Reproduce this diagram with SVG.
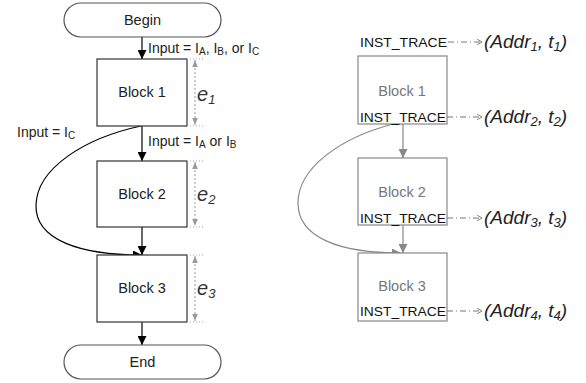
<svg xmlns="http://www.w3.org/2000/svg" width="586" height="383" viewBox="0 0 586 383">
<defs>
<marker id="ab" viewBox="0 0 10 10" refX="10" refY="5" markerWidth="9" markerHeight="9" markerUnits="userSpaceOnUse" orient="auto"><path d="M0,0 L10,5 L0,10 Z" fill="#000"/></marker>
<marker id="ag" viewBox="0 0 10 10" refX="10" refY="5" markerWidth="9" markerHeight="9" markerUnits="userSpaceOnUse" orient="auto"><path d="M0,0 L10,5 L0,10 Z" fill="#888"/></marker>
<marker id="ad" viewBox="0 0 10 10" refX="10" refY="5" markerWidth="7" markerHeight="7" markerUnits="userSpaceOnUse" orient="auto-start-reverse"><path d="M0,1 L10,5 L0,9 Z" fill="#999"/></marker>
<marker id="ao" viewBox="0 0 10 10" refX="9" refY="5" markerWidth="7" markerHeight="7" markerUnits="userSpaceOnUse" orient="auto"><path d="M2,1 L9,5 L2,9" fill="none" stroke="#777" stroke-width="1.3"/></marker>
</defs>
<style>
text{font-family:"Liberation Sans",Arial,sans-serif;}
.lbl{font-size:14px;fill:#222;}
.blk{font-size:14.5px;fill:#222;text-anchor:middle;}
.gblk{font-size:14.5px;fill:#777;text-anchor:middle;}
.box{fill:#fff;stroke:#333;stroke-width:1.2;}
.gbox{fill:#fff;stroke:#888;stroke-width:1.2;}
.pill{fill:#fff;stroke:#555;stroke-width:1.2;}
.e{font-size:20px;font-style:italic;fill:#333;}
.addr{font-size:19px;font-style:italic;fill:#222;}
.it{font-size:13.5px;fill:#111;}
.dim{stroke:#999;stroke-width:1;stroke-dasharray:2,2;fill:none;}
.dot{stroke:#aaa;stroke-width:1;stroke-dasharray:1,2;fill:none;}
.arr{stroke:#000;stroke-width:1.2;fill:none;}
.garr{stroke:#888;stroke-width:1.2;fill:none;}
.dd{stroke:#777;stroke-width:1;stroke-dasharray:6,3,1,3;fill:none;}
</style>

<g id="connectors">
<line class="arr" x1="142" y1="37" x2="142" y2="59" marker-end="url(#ab)"/>
<line class="arr" x1="142" y1="126" x2="142" y2="161" marker-end="url(#ab)"/>
<line class="arr" x1="142" y1="227" x2="142" y2="255" marker-end="url(#ab)"/>
<line class="arr" x1="142" y1="322" x2="142" y2="345" marker-end="url(#ab)"/>
<path class="arr" d="M141,126 C85,138 37,168 36,205 C35,240 80,255 142,255" marker-end="url(#ab)"/>
<line class="garr" x1="403" y1="124" x2="403" y2="158" marker-end="url(#ag)"/>
<line class="garr" x1="403" y1="225" x2="403" y2="253" marker-end="url(#ag)"/>
<path class="garr" d="M393,124 C340,138 298,168 298,203 C298,238 340,253 401,253" marker-end="url(#ag)"/>
<line class="dd" x1="448" y1="42" x2="482" y2="42" marker-end="url(#ao)"/>
<line class="dd" x1="447" y1="117" x2="482" y2="117" marker-end="url(#ao)"/>
<line class="dd" x1="447" y1="218" x2="482" y2="218" marker-end="url(#ao)"/>
<line class="dd" x1="447" y1="311" x2="482" y2="311" marker-end="url(#ao)"/>
</g>

<g id="begin">
<rect class="pill" x="64" y="3" width="157" height="34" rx="17"/>
<text class="blk" x="142.5" y="25">Begin</text>
</g>
<g id="block1">
<rect class="box" x="97" y="59" width="90" height="67"/>
<text class="blk" x="142" y="97">Block 1</text>
</g>
<g id="block2">
<rect class="box" x="97" y="161" width="90" height="66"/>
<text class="blk" x="142" y="199">Block 2</text>
</g>
<g id="block3">
<rect class="box" x="97" y="255" width="90" height="67"/>
<text class="blk" x="142" y="293">Block 3</text>
</g>
<g id="end">
<rect class="pill" x="64" y="345" width="157" height="34" rx="17"/>
<text class="blk" x="142.5" y="367">End</text>
</g>

<g id="labels">
<text class="lbl" x="148" y="53">Input = I<tspan font-size="10" dy="2">A</tspan><tspan dy="-2">, I</tspan><tspan font-size="10" dy="2">B</tspan><tspan dy="-2">, or I</tspan><tspan font-size="10" dy="2">C</tspan></text>
<text class="lbl" x="17" y="137">Input = I<tspan font-size="10" dy="2">C</tspan></text>
<text class="lbl" x="148" y="146">Input = I<tspan font-size="10" dy="2">A</tspan><tspan dy="-2"> or I</tspan><tspan font-size="10" dy="2">B</tspan></text>
</g>

<g id="dims">
<line class="dot" x1="187" y1="59" x2="204" y2="59"/>
<line class="dot" x1="187" y1="126" x2="204" y2="126"/>
<line class="dim" x1="195" y1="60" x2="195" y2="125" marker-start="url(#ad)" marker-end="url(#ad)"/>
<text class="e" x="197" y="101">e<tspan font-size="13" dy="3">1</tspan></text>
<line class="dot" x1="187" y1="161" x2="204" y2="161"/>
<line class="dot" x1="187" y1="227" x2="204" y2="227"/>
<line class="dim" x1="195" y1="162" x2="195" y2="226" marker-start="url(#ad)" marker-end="url(#ad)"/>
<text class="e" x="197" y="201">e<tspan font-size="13" dy="3">2</tspan></text>
<line class="dot" x1="187" y1="255" x2="204" y2="255"/>
<line class="dot" x1="187" y1="322" x2="204" y2="322"/>
<line class="dim" x1="195" y1="256" x2="195" y2="321" marker-start="url(#ad)" marker-end="url(#ad)"/>
<text class="e" x="197" y="295">e<tspan font-size="13" dy="3">3</tspan></text>
</g>

<g id="trace0">
<text class="it" x="360" y="47" textLength="87" lengthAdjust="spacingAndGlyphs">INST_TRACE</text>
<text class="addr" x="484" y="48">(Addr<tspan font-size="13" dy="3">1</tspan><tspan dy="-3">, t</tspan><tspan font-size="13" dy="3">1</tspan><tspan dy="-3">)</tspan></text>
</g>
<g id="rblock1">
<rect class="gbox" x="358" y="56" width="89" height="68"/>
<text class="gblk" x="402" y="96">Block 1</text>
<text class="it" x="360" y="122" textLength="86" lengthAdjust="spacingAndGlyphs">INST_TRACE</text>
<text class="addr" x="484" y="123">(Addr<tspan font-size="13" dy="3">2</tspan><tspan dy="-3">, t</tspan><tspan font-size="13" dy="3">2</tspan><tspan dy="-3">)</tspan></text>
</g>
<g id="rblock2">
<rect class="gbox" x="358" y="158" width="89" height="67"/>
<text class="gblk" x="402" y="197">Block 2</text>
<text class="it" x="360" y="223" textLength="86" lengthAdjust="spacingAndGlyphs">INST_TRACE</text>
<text class="addr" x="484" y="224">(Addr<tspan font-size="13" dy="3">3</tspan><tspan dy="-3">, t</tspan><tspan font-size="13" dy="3">3</tspan><tspan dy="-3">)</tspan></text>
</g>
<g id="rblock3">
<rect class="gbox" x="358" y="253" width="89" height="68"/>
<text class="gblk" x="402" y="291">Block 3</text>
<text class="it" x="360" y="316" textLength="86" lengthAdjust="spacingAndGlyphs">INST_TRACE</text>
<text class="addr" x="484" y="317">(Addr<tspan font-size="13" dy="3">4</tspan><tspan dy="-3">, t</tspan><tspan font-size="13" dy="3">4</tspan><tspan dy="-3">)</tspan></text>
</g>
</svg>
